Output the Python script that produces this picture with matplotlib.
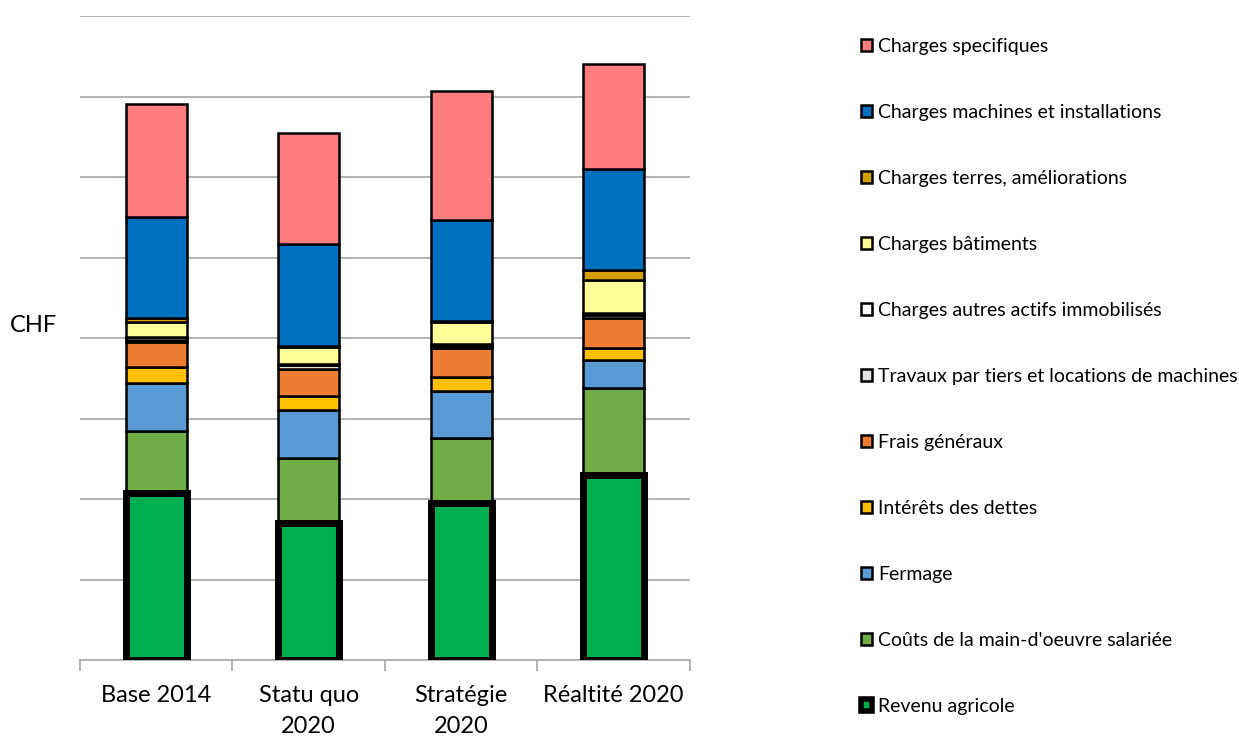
import matplotlib
matplotlib.use("Agg")
import matplotlib.pyplot as plt
from matplotlib.patches import Patch
import numpy as np

plt.rcParams['font.family'] = ['Lato', 'DejaVu Sans']

categories = ["Base 2014", "Statu quo\n2020", "Stratégie\n2020", "Réaltité 2020"]

# Stack order, bottom to top
series_names = [
    "Revenu agricole",
    "Coûts de la main-d'oeuvre salariée",
    "Fermage",
    "Intérêts des dettes",
    "Frais généraux",
    "Travaux par tiers et locations de machines",
    "Charges autres actifs immobilisés",
    "Charges bâtiments",
    "Charges terres, améliorations",
    "Charges machines et installations",
    "Charges specifiques",
]

revenu_agricole = [2.08, 1.70, 1.95, 2.30]
main_oeuvre = [0.77, 0.81, 0.81, 1.08]
fermage = [0.59, 0.59, 0.58, 0.35]
interets = [0.20, 0.18, 0.18, 0.145]
frais_generaux = [0.31, 0.34, 0.36, 0.37]
travaux_tiers = [0.03, 0.04, 0.02, 0.04]
autres_actifs = [0.03, 0.02, 0.02, 0.02]
batiments = [0.19, 0.21, 0.28, 0.41]
terres = [0.045, 0.01, 0.01, 0.125]
machines = [1.26, 1.27, 1.255, 1.26]
specifiques = [1.40, 1.38, 1.60, 1.30]

series_values = [revenu_agricole, main_oeuvre, fermage, interets, frais_generaux,
                 travaux_tiers, autres_actifs, batiments, terres, machines, specifiques]

colors = ["#00B050", "#70AD47", "#5B9BD5", "#FFC000", "#ED7D31", "#E3E3E3",
          "#FFFFFF", "#FFFF99", "#D4A000", "#0070C0", "#FF7C80"]

fig = plt.figure(figsize=(12.39, 7.4), dpi=100)
ax = fig.add_axes([80 / 1239, 80 / 740, 610 / 1239, 644 / 740])

x = np.arange(len(categories))
bottom = np.zeros(len(categories))
handles = []
for i, (name, vals, col) in enumerate(zip(series_names, series_values, colors)):
    vals = np.array(vals)
    lw = 5.0 if i == 0 else 1.8
    ax.bar(x, vals, width=0.4, bottom=bottom, color=col, edgecolor="black",
           linewidth=lw, zorder=5 if i == 0 else 3)
    handles.append(Patch(facecolor=col, edgecolor="black", linewidth=lw * 0.8 if i == 0 else 1.8, label=name))
    bottom += vals

ax.set_xlim(-0.5, 3.5)
ax.set_ylim(0, 8)
ax.set_yticks(np.arange(1, 9))
ax.yaxis.grid(True, color="#A6A6A6", linewidth=1.2, zorder=0)
ax.set_axisbelow(True)
ax.tick_params(axis="y", length=0, labelleft=False)

ax.set_xticks(x)
ax.set_xticklabels(categories, fontsize=17, linespacing=1.6)
ax.set_xticks(np.arange(-0.5, 4.0, 1.0), minor=True)
ax.tick_params(axis="x", which="major", length=0, pad=18)
ax.tick_params(axis="x", which="minor", length=8, color="#A6A6A6", width=1.2)
for lbl in ax.get_xticklabels():
    lbl.set_verticalalignment("top")

for side in ["left", "right", "top"]:
    ax.spines[side].set_visible(False)
ax.spines["bottom"].set_color("#A6A6A6")
ax.spines["bottom"].set_linewidth(1.2)

fig.text(10 / 1239, 1 - 325 / 740, "CHF", fontsize=17, ha="left", va="center")

leg = fig.legend(handles=handles[::-1], loc="upper left",
                 bbox_to_anchor=(853 / 1239, 1 - 30 / 740),
                 frameon=False, fontsize=14, handlelength=0.6, handleheight=0.6,
                 handletextpad=0.3, labelspacing=2.52, borderaxespad=0)

fig.savefig("out.png", dpi=100)
